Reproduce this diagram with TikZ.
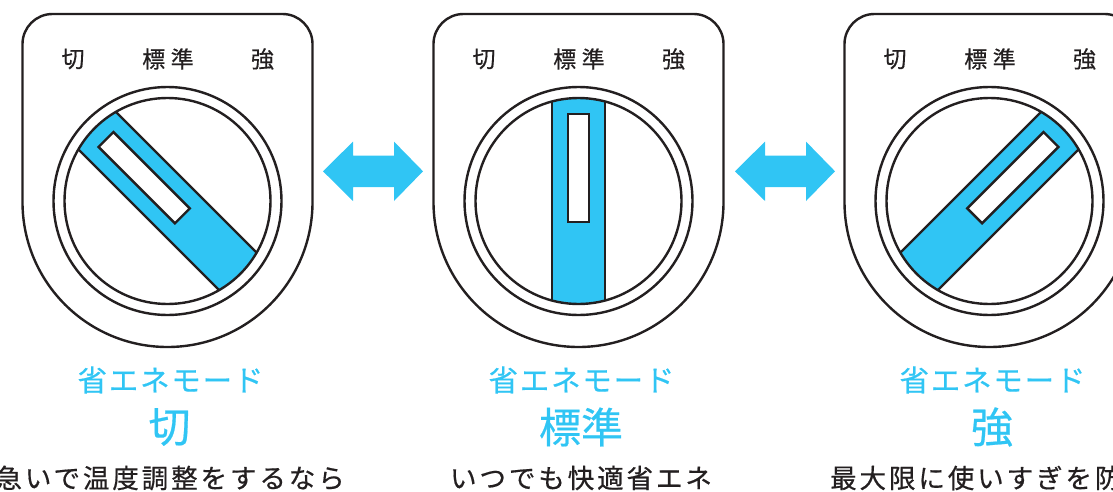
\documentclass[tikz,border=0pt]{standalone}
\usepackage{fontspec}
\setmainfont{Noto Sans CJK JP}
\newfontfamily\cjkdial[LetterSpace=24,FakeBold=0.4]{Noto Sans CJK JP}
\newfontfamily\cjkmode[LetterSpace=6,FakeBold=0.5]{Noto Sans CJK JP}
\newfontfamily\cjkbig[LetterSpace=0,FakeBold=0.5]{Noto Sans CJK JP}
\newfontfamily\cjkcap[LetterSpace=11,FakeBold=0.5]{Noto Sans CJK JP}
\definecolor{skyb}{HTML}{30C5F4}
\definecolor{inkk}{HTML}{231F20}
\tikzset{
  outline/.style={draw=inkk,line width=2.4pt},
  dialtext/.style={inner sep=0pt,text=inkk,font=\cjkdial\fontsize{23}{23}\selectfont},
  modetext/.style={inner sep=0pt,text=skyb,font=\cjkmode\fontsize{29.5}{30}\selectfont},
  bigtext/.style={inner sep=0pt,text=skyb,font=\cjkbig\fontsize{42}{42}\selectfont},
  captext/.style={inner sep=0pt,text=inkk,font=\cjkcap\fontsize{26.5}{27}\selectfont},
  swaparrow/.style={fill=skyb,draw=none}
}
\newcommand{\dialpanel}[3]{% name, centre x, rotation
  \begin{scope}[shift={(#2,290)}]
    \draw[outline,fill=white] (-145,-1) -- (-145,157) arc[start angle=180,end angle=90,radius=30]
      -- (115,187) arc[start angle=90,end angle=0,radius=30] -- (145,-1)
      arc[start angle=0,end angle=-180,radius=145] -- cycle;
    \draw[outline] (0,0) circle[radius=114];
    \begin{scope}
      \clip (0,0) circle[radius=103];
      \begin{scope}[rotate=#3]
        \fill[skyb] (-26.5,-110) rectangle (26.5,110);
        \draw[outline] (-26.5,-110) -- (-26.5,110) (26.5,-110) -- (26.5,110);
      \end{scope}
    \end{scope}
    \begin{scope}[rotate=#3]
      \draw[outline,fill=white] (-10.5,-21) rectangle (10.5,87);
    \end{scope}
    \draw[outline] (0,0) circle[radius=103];
    \node[dialtext] (#1off) at (-94.5,142) {切};
    \node[dialtext] (#1std) at (0.5,142) {標準};
    \node[dialtext] (#1high) at (95,142) {強};
  \end{scope}
}
\newcommand{\swap}[1]{% left tip x
  \begin{scope}[shift={(#1,319.7)}]
    \fill[swaparrow] (0,0) -- (30,29.7) -- (30,15.7) -- (71,15.7) -- (71,29.7) -- (100,0)
      -- (71,-29.7) -- (71,-15.7) -- (30,-15.7) -- (30,-29.7) -- cycle;
  \end{scope}
}
\begin{document}
\begin{tikzpicture}[x=1pt,y=1pt]
  \useasboundingbox (0,0) rectangle (1113,491);
  \dialpanel{a}{167.5}{45}
  \dialpanel{b}{578.5}{0}
  \dialpanel{c}{989.5}{-45}
  \swap{323}
  \swap{735}
  \node[modetext] (amode) at (170.5,111) {省エネモード};
  \node[modetext] (bmode) at (581.5,111) {省エネモード};
  \node[modetext] (cmode) at (992.5,111) {省エネモード};
  \node[bigtext] (abig) at (169.5,64) {切};
  \node[bigtext] (bbig) at (581,64) {標準};
  \node[bigtext] (cbig) at (992,64) {強};
  \node[captext,anchor=east] (acap) at (345,13) {急いで温度調整をするなら};
  \node[captext] (bcap) at (581,13) {いつでも快適省エネ};
  \node[captext,anchor=west] (ccap) at (830,13) {最大限に使いすぎを防};
\end{tikzpicture}
\end{document}
